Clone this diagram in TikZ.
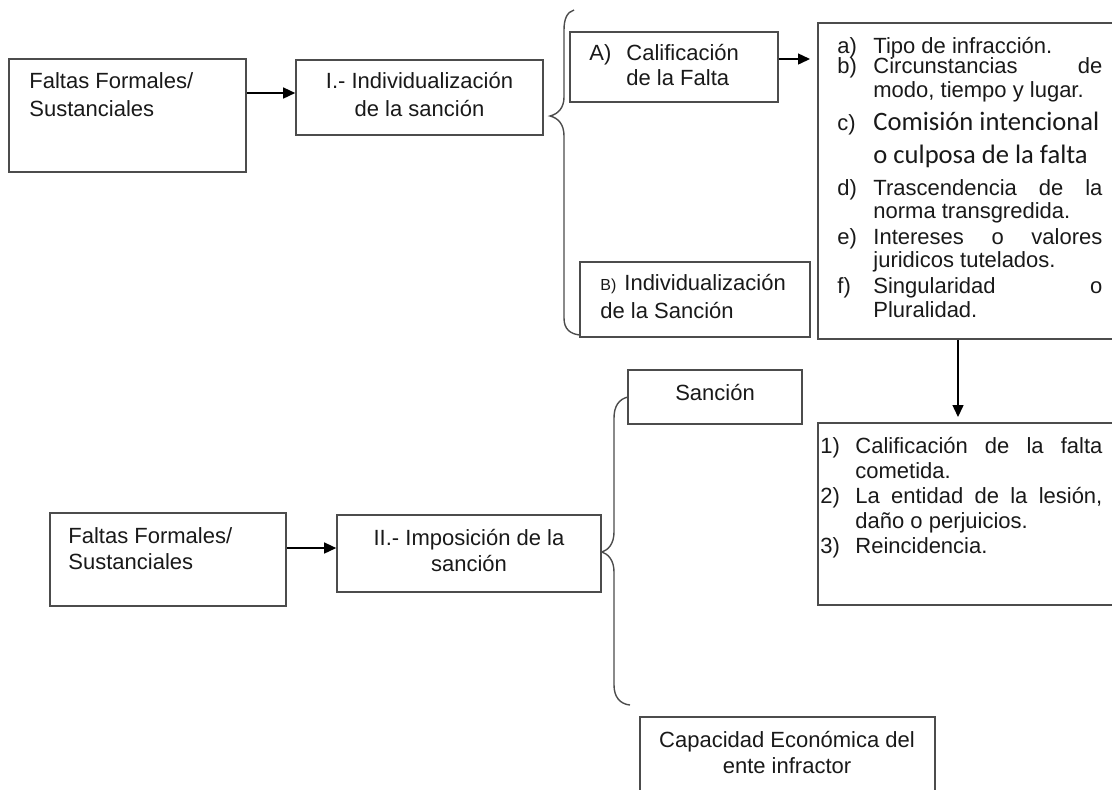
\documentclass[tikz,border=0pt]{standalone}
\usepackage{fontspec}
\setmainfont{Liberation Sans}
\newfontfamily\calib{Carlito}
\usetikzlibrary{arrows.meta,fit}
\tikzset{
  box/.style={draw=black!70, line width=0.8pt, inner sep=0pt, fill=none},
  txt/.style={inner sep=0pt, anchor=base west, font=\fontsize{11}{13}\selectfont, text=black!90},
  ctxt/.style={txt, anchor=base},
  arr/.style={draw=black, line width=0.7pt, -{Triangle[length=6pt,width=5.5pt]}},
  brace/.style={draw=black!70, line width=0.7pt}
}
\begin{document}
\begin{tikzpicture}[x=0.5pt,y=-0.5pt]
\useasboundingbox (0,0) rectangle (1112,789);
% ---------- top row ----------
\node[box, fit={(9,59) (246,172)}] (b1) {};
\node[txt] (b1t1) at (29,88) {Faltas Formales/};
\node[txt] (b1t2) at (29,116) {Sustanciales};

\node[box, fit={(296,60) (543,135)}] (b2) {};
\node[ctxt] (b2t1) at (419.5,88) {I.- Individualización};
\node[ctxt] (b2t2) at (419.5,116) {de la sanción};

\coordinate (y1) at (0,93);
\draw[arr] (b1.east |- y1) -- (b2.west |- y1);

% brace 1
\draw[brace] (574,10) .. controls (567,12) and (564,19) .. (564,30) -- (564,97)
  .. controls (564,108) and (558,114) .. (550,116)
  .. controls (558,118) and (564,124) .. (564,136) -- (564,318)
  .. controls (564,329) and (570,334) .. (580,335);

\node[box, fit={(570,32) (778,102)}] (bA) {};
\node[txt] (bAl) at (589,60) {A)};
\node[txt] (bAt1) at (626,60) {Calificación};
\node[txt] (bAt2) at (626,85) {de la Falta};

\node[box, fit={(580,262) (810,337)}] (bB) {};
\node[txt, font=\fontsize{8}{10}\selectfont] (bBl) at (600,290) {B)};
\node[txt] (bBt1) at (624,290) {Individualización};
\node[txt] (bBt2) at (600,318) {de la Sanción};

% list box
\node[box, fit={(818,23) (1116,339)}] (list) {};
\coordinate (ya) at (0,59);
\coordinate (atip) at (810,59);
\draw[arr] (bA.east |- ya) -- (atip);

\node[txt] (la) at (837,53) {a)};
\node[txt] (lat) at (873,53) {Tipo de infracción.};
\node[txt] (lb) at (837,73) {b)};
\node[txt] (lbt) at (873,73) {\hbox to 114.5pt{Circunstancias\hfill de}};
\node[txt] (lbt2) at (873,97) {modo, tiempo y lugar.};
\node[txt] (lc) at (837,130) {c)};
\node[txt, font=\calib\fontsize{13.3}{15}\selectfont] (lct) at (873,130) {Comisión intencional};
\node[txt, font=\calib\fontsize{13.3}{15}\selectfont] (lct2) at (873,163) {o culposa de la falta};
\node[txt] (ld) at (837,195) {d)};
\node[txt] (ldt) at (873,195) {\hbox to 114.5pt{Trascendencia\hfill de\hfill la}};
\node[txt] (ldt2) at (873,218) {norma transgredida.};
\node[txt] (le) at (837,244) {e)};
\node[txt] (let) at (873,244) {\hbox to 114.5pt{Intereses\hfill o\hfill valores}};
\node[txt] (let2) at (873,267) {juridicos tutelados.};
\node[txt] (lf) at (837,293) {f)};
\node[txt] (lft) at (873,293) {\hbox to 114.5pt{Singularidad\hfill o}};
\node[txt] (lft2) at (873,317) {Pluralidad.};

% lower list box
\node[box, fit={(818,423) (1116,605)}] (list2) {};
\coordinate (dtip) at (958,417);
\draw[arr] (list.south -| dtip) -- (dtip);

\node[txt] (m1) at (820,453) {1)};
\node[txt] (m1t) at (855,453) {\hbox to 123.5pt{Calificación\hfill de\hfill la\hfill falta}};
\node[txt] (m1t2) at (855,478) {cometida.};
\node[txt] (m2) at (820,503) {2)};
\node[txt] (m2t) at (855,503) {\hbox to 123.5pt{La\hfill entidad\hfill de\hfill la\hfill lesión,}};
\node[txt] (m2t2) at (855,528) {daño o perjuicios.};
\node[txt] (m3) at (820,553) {3)};
\node[txt] (m3t) at (855,553) {Reincidencia.};

% ---------- bottom row ----------
\node[box, fit={(50,513) (286,606)}] (c1) {};
\node[txt] (c1t1) at (68,543) {Faltas Formales/};
\node[txt] (c1t2) at (68,569) {Sustanciales};

\node[box, fit={(337,515) (601,592)}] (c2) {};
\node[ctxt] (c2t1) at (469,545) {II.- Imposición de la};
\node[ctxt] (c2t2) at (469,571) {sanción};

\coordinate (y2) at (0,548);
\draw[arr] (c1.east |- y2) -- (c2.west |- y2);

% brace 2
\draw[brace] (628,397) .. controls (619,399) and (614,406) .. (614,418) -- (614,532)
  .. controls (614,544) and (608,550) .. (602,552)
  .. controls (608,554) and (614,560) .. (614,572) -- (614,685)
  .. controls (614,697) and (620,704) .. (630,705);

\node[box, fit={(628,370) (802,424)}] (s1) {};
\node[ctxt] (s1t) at (715,400) {Sanción};

\node[box, fit={(640,717) (935,800)}] (s2) {};
\node[ctxt] (s2t1) at (787,747) {Capacidad Económica del};
\node[ctxt] (s2t2) at (787,773) {ente infractor};
\end{tikzpicture}
\end{document}
